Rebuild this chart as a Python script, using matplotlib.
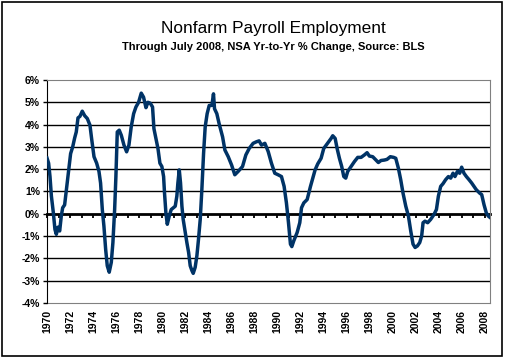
import matplotlib
matplotlib.use('Agg')
import matplotlib.pyplot as plt
from matplotlib.patches import Rectangle

plt.rcParams['font.family'] = ['Liberation Sans', 'DejaVu Sans']
plt.rcParams['axes.unicode_minus'] = False

# decimal year, NSA yr-to-yr % change
dates = [1970.00, 1970.14, 1970.26, 1970.38, 1970.55, 1970.69, 1970.81, 1970.95, 1971.10, 1971.24,
         1971.36, 1971.53, 1971.71, 1971.88, 1972.05, 1972.23, 1972.40, 1972.54, 1972.69, 1972.86,
         1973.06, 1973.27, 1973.50, 1973.73, 1973.87, 1974.08, 1974.31, 1974.51, 1974.65, 1974.80,
         1974.94, 1975.09, 1975.23, 1975.40, 1975.58, 1975.72, 1975.87, 1975.98, 1976.10, 1976.27,
         1976.45, 1976.68, 1976.91, 1977.11, 1977.31, 1977.52, 1977.72, 1977.95, 1978.18, 1978.38,
         1978.59, 1978.76, 1978.96, 1979.16, 1979.28, 1979.45, 1979.63, 1979.80, 1979.97, 1980.12,
         1980.20, 1980.32, 1980.44, 1980.61, 1980.78, 1980.96, 1981.13, 1981.27, 1981.36, 1981.48,
         1981.59, 1981.71, 1981.82, 1982.00, 1982.14, 1982.29, 1982.43, 1982.58, 1982.69, 1982.86,
         1983.01, 1983.15, 1983.30, 1983.44, 1983.59, 1983.73, 1983.90, 1984.08, 1984.31, 1984.45,
         1984.54, 1984.74, 1984.94, 1985.24, 1985.44, 1985.73, 1986.02, 1986.30, 1986.59, 1986.97,
         1987.26, 1987.55, 1987.89, 1988.18, 1988.41, 1988.62, 1988.91, 1989.20, 1989.48, 1989.77,
         1990.06, 1990.35, 1990.58, 1990.78, 1990.96, 1991.13, 1991.25, 1991.42, 1991.71, 1991.94,
         1992.09, 1992.29, 1992.58, 1992.87, 1993.07, 1993.27, 1993.50, 1993.79, 1994.02, 1994.23,
         1994.43, 1994.66, 1994.80, 1995.01, 1995.18, 1995.38, 1995.58, 1995.76, 1995.93, 1996.10,
         1996.39, 1996.68, 1996.97, 1997.26, 1997.55, 1997.78, 1997.98, 1998.27, 1998.56, 1998.76,
         1998.99, 1999.28, 1999.51, 1999.80, 2000.09, 2000.27, 2000.50, 2000.70, 2000.90, 2001.14,
         2001.37, 2001.57, 2001.77, 2001.95, 2002.15, 2002.35, 2002.52, 2002.64, 2002.81, 2003.04,
         2003.30, 2003.59, 2003.80, 2003.97, 2004.17, 2004.37, 2004.60, 2004.84, 2005.04, 2005.24,
         2005.41, 2005.62, 2005.82, 2005.99, 2006.19, 2006.40, 2006.63, 2006.86, 2007.06, 2007.26,
         2007.55, 2007.73, 2007.93, 2008.13, 2008.30, 2008.42]
pct = [2.50, 2.27, 1.67, 0.80, 0.05, -0.70, -0.92, -0.60, -0.77, -0.10,
       0.27, 0.40, 1.20, 1.97, 2.70, 3.00, 3.40, 3.67, 4.30, 4.37,
       4.60, 4.40, 4.27, 3.97, 3.38, 2.56, 2.27, 1.90, 1.38, 0.19,
       -0.55, -1.59, -2.33, -2.62, -2.18, -1.29, 0.19, 1.67, 3.67, 3.75,
       3.52, 3.08, 2.78, 3.08, 3.90, 4.49, 4.79, 5.00, 5.41, 5.23,
       4.76, 5.00, 4.96, 4.79, 3.82, 3.38, 2.93, 2.27, 2.12, 1.67,
       0.93, 0.04, -0.47, -0.10, 0.19, 0.27, 0.34, 0.79, 1.38, 1.97,
       1.38, 0.34, -0.25, -0.84, -1.29, -1.73, -2.33, -2.55, -2.67, -2.40,
       -1.88, -1.14, -0.25, 1.08, 2.71, 3.90, 4.49, 4.86, 4.86, 5.38,
       4.71, 4.49, 4.04, 3.45, 2.86, 2.56, 2.19, 1.75, 1.90, 2.12,
       2.64, 2.93, 3.16, 3.23, 3.27, 3.08, 3.16, 2.79, 2.27, 1.82,
       1.75, 1.67, 1.23, 0.49, -0.40, -1.36, -1.47, -1.21, -0.84, -0.40,
       0.27, 0.49, 0.64, 1.23, 1.60, 1.97, 2.24, 2.49, 2.93, 3.08,
       3.23, 3.38, 3.50, 3.38, 2.93, 2.49, 2.12, 1.67, 1.60, 1.90,
       2.12, 2.34, 2.53, 2.53, 2.64, 2.74, 2.59, 2.56, 2.41, 2.30,
       2.39, 2.41, 2.44, 2.56, 2.53, 2.49, 2.04, 1.53, 0.93, 0.34,
       -0.10, -0.77, -1.36, -1.51, -1.44, -1.29, -0.99, -0.40, -0.33, -0.40,
       -0.25, -0.03, 0.19, 0.79, 1.23, 1.35, 1.53, 1.67, 1.60, 1.82,
       1.67, 1.90, 1.82, 2.09, 1.82, 1.67, 1.53, 1.38, 1.23, 1.08,
       0.93, 0.86, 0.41, 0.04, -0.10, -0.15]

year_ticks = list(range(1970, 2009))
year_labels = [str(y) for y in range(1970, 2009, 2)]
y_ticks = [-4, -3, -2, -1, 0, 1, 2, 3, 4, 5, 6]

fig = plt.figure(figsize=(5.07, 3.58), dpi=100)
ax = fig.add_axes([47/507, 1 - 303/358, 443/507, 223/358])

ax.plot(dates, pct, color='#003366', lw=2.5, solid_joinstyle='round', zorder=3)

ax.set_xlim(1970, 2008.45)
ax.set_ylim(-4, 6)
for v in y_ticks[1:-1]:
    if v != 0:
        ax.axhline(v, color='black', lw=1, zorder=1)

# zero line carries the year ticks
ax.spines['bottom'].set_position(('data', 0))
ax.spines['bottom'].set_linewidth(2)
ax.spines['bottom'].set_zorder(2)
ax.set_xticks(year_ticks)
ax.tick_params(axis='x', direction='out', length=3, width=1.3, labelbottom=False)

ax.set_yticks(y_ticks)
ax.set_yticklabels(['%d%%' % v for v in y_ticks], fontsize=7.5, fontweight='bold')
ax.tick_params(axis='y', direction='out', length=3, width=1, pad=2)
ax.spines['left'].set_color('black')
for s in ['top', 'right']:
    ax.spines[s].set_color('#808080')

sec = ax.secondary_xaxis(0)
sec.spines['bottom'].set_color('#808080')
sec.set_xticks(list(range(1970, 2009, 2)))
sec.set_xticklabels(year_labels, rotation=90, fontsize=7.5, fontweight='bold')
sec.tick_params(length=0, pad=5)

fig.text(0.539, 1 - 29/358, 'Nonfarm Payroll Employment', ha='center', va='center', fontsize=12.4)
fig.text(0.539, 1 - 47/358, 'Through July 2008, NSA Yr-to-Yr % Change, Source: BLS',
         ha='center', va='center', fontsize=8, fontweight='bold')

fig.patches.append(Rectangle((2/507, 2/358), 500/507, 354/358, transform=fig.transFigure,
                             fill=False, edgecolor='black', lw=1.2))

fig.savefig('out.png', dpi=100)
